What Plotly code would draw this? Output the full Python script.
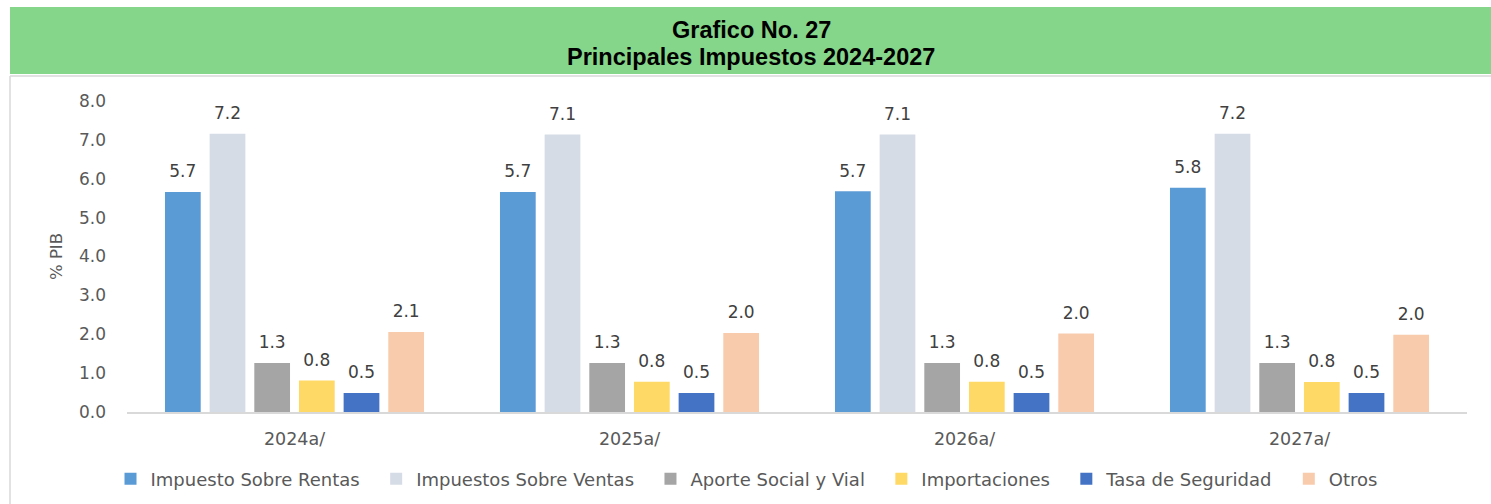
import plotly.graph_objects as go

categories = ["2024a/", "2025a/", "2026a/", "2027a/"]
series_names = ["Impuesto Sobre Rentas", "Impuestos Sobre Ventas", "Aporte Social y Vial",
                "Importaciones", "Tasa de Seguridad", "Otros"]
rentas = [5.66, 5.66, 5.68, 5.77]
ventas = [7.16, 7.14, 7.14, 7.16]
aporte = [1.26, 1.26, 1.26, 1.26]
importaciones = [0.81, 0.78, 0.78, 0.77]
tasa = [0.49, 0.49, 0.49, 0.49]
otros = [2.06, 2.03, 2.02, 1.99]
series_values = [rentas, ventas, aporte, importaciones, tasa, otros]
colors = ["#5B9BD5", "#D6DCE5", "#A5A5A5", "#FFD966", "#4472C4", "#F8CBAD"]
y_ticks = [0, 1, 2, 3, 4, 5, 6, 7, 8]

NUM_FONT = "DejaVu Sans"
NBSP = "\u00a0"
fig = go.Figure()
for name, vals, col in zip(series_names, series_values, colors):
    fig.add_trace(go.Bar(
        x=categories, y=vals, name=name + NBSP * 2, marker=dict(color=col, line=dict(width=0)),
        offsetgroup=name, hoverinfo="skip",
    ))
for name, vals in zip(series_names, series_values):
    fig.add_trace(go.Scatter(
        x=categories, y=vals, mode="markers+text", offsetgroup=name,
        marker=dict(size=15, opacity=0), texttemplate="%{y:.1f}", textposition="top center",
        textfont=dict(family=NUM_FONT, size=17, color="#404040"),
        showlegend=False, hoverinfo="skip", cliponaxis=False,
    ))

L, R, T, B = 127, 24, 101, 92
W, H = 1491, 504
pw, ph = W - L - R, H - T - B

def px_x(px):
    return (px - L) / pw

def px_y(py):
    return (H - B - py) / ph

fig.update_layout(
    width=W, height=H,
    margin=dict(l=L, r=R, t=T, b=B, autoexpand=False),
    paper_bgcolor="white", plot_bgcolor="white",
    barmode="group", bargap=0.2, bargroupgap=0.2,
    scattermode="group",
    showlegend=True,
    legend=dict(orientation="h", xref="container", yref="container", x=(745.5 + 7) / W, xanchor="center",
                y=25 / H, yanchor="middle", font=dict(family=NUM_FONT, size=18, color="#595959"),
                traceorder="normal"),
    xaxis=dict(showline=True, linecolor="#D9D9D9", linewidth=1.5, showgrid=False, ticks="",
               tickfont=dict(family=NUM_FONT, size=17.5, color="#595959"), ticklabelstandoff=10),
    yaxis=dict(range=[0, 8], tickvals=y_ticks, tickformat=".1f", showgrid=False, zeroline=False,
               showline=False, ticks="", ticklabelstandoff=20,
               tickfont=dict(family=NUM_FONT, size=17, color="#595959"),
               title=dict(text="% PIB", font=dict(family=NUM_FONT, size=16.5, color="#595959"),
                          standoff=12)),
    shapes=[
        dict(type="rect", xref="paper", yref="paper", x0=px_x(10), x1=px_x(1491), y0=px_y(74), y1=px_y(7),
             fillcolor="#85D68A", line=dict(width=0), layer="below"),
        dict(type="line", xref="paper", yref="paper", x0=px_x(10), x1=px_x(1491), y0=px_y(76), y1=px_y(76),
             line=dict(color="#D9D9D9", width=1.5)),
        dict(type="line", xref="paper", yref="paper", x0=px_x(10), x1=px_x(10), y0=px_y(76), y1=px_y(504),
             line=dict(color="#D9D9D9", width=1.5)),
    ],
    annotations=[
        dict(text="<b>Grafico No. 27</b>", xref="paper", yref="paper", x=px_x(751), y=px_y(30),
             showarrow=False, xanchor="center", yanchor="middle",
             font=dict(family="Liberation Sans", size=23.5, color="black")),
        dict(text="<b>Principales Impuestos 2024-2027</b>", xref="paper", yref="paper", x=px_x(751),
             y=px_y(57), showarrow=False, xanchor="center", yanchor="middle",
             font=dict(family="Liberation Sans", size=23.5, color="black")),
    ],
)

fig.write_html("out.html", config={"displayModeBar": False},
               post_script="document.body.style.margin='0px';")
